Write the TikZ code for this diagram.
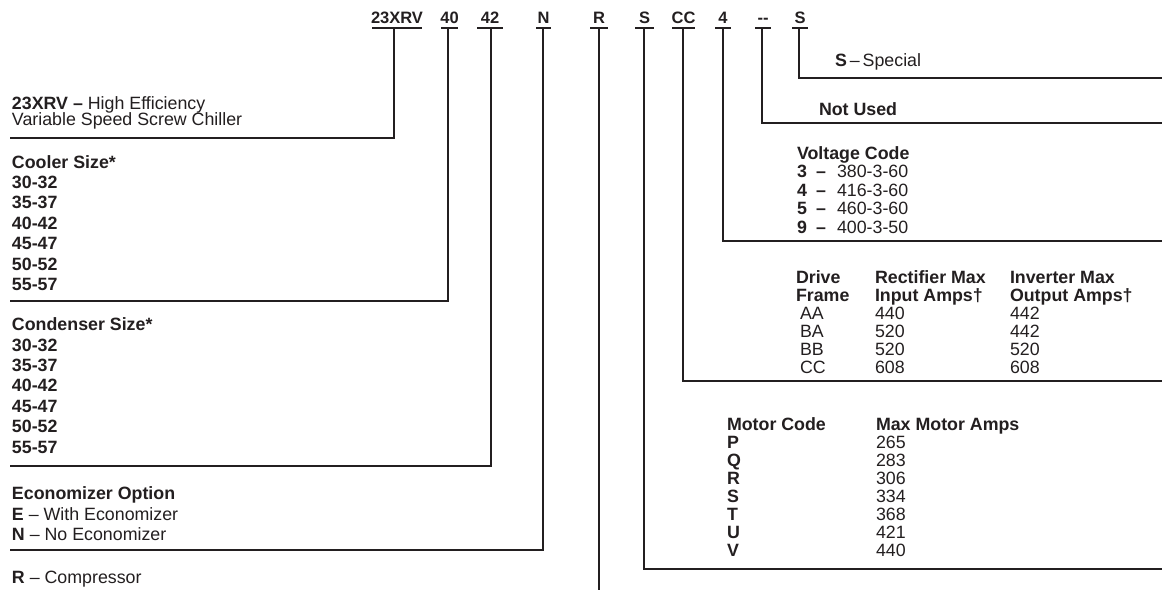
\documentclass[tikz,border=0pt]{standalone}
\usepackage{fontspec}
\setmainfont{Liberation Sans}
\definecolor{ink}{HTML}{231F20}
\begin{document}
\begin{tikzpicture}[x=1pt,y=-1pt,
  conn/.style={draw=ink, line width=2.2pt},
  uline/.style={draw=ink, line width=2.2pt},
  txt/.style={anchor=base west, inner sep=0pt, outer sep=0pt, text=ink, font=\fontsize{17.8}{20}\selectfont},
  bt/.style={txt, font=\fontsize{17.8}{20}\selectfont\bfseries},
  hdr/.style={anchor=base, inner sep=0pt, outer sep=0pt, text=ink, font=\fontsize{16.5}{18}\selectfont\bfseries}]
\useasboundingbox (0,0) rectangle (1162,592);
\fill[white] (0,0) rectangle (1162,592);

% header labels with underlines and stem tops
\foreach \n/\lab/\cx/\l/\r/\s in {
  A/23XRV/397/372/422/394,
  B/40/449.5/441/458/448,
  C/42/490/477/503/491,
  D/N/543.5/536/551/543,
  E/R/599/590/608/599,
  F/S/644.5/635/654/644,
  G/CC/683.5/672/695/683,
  H/4/723/715/731/723,
  I/-{}-/763/755/771/762,
  J/S/800/792/808/799} {
  \node[hdr] (h\n) at (\cx,23) {\lab};
  \coordinate (ul\n) at (\l,28);
  \coordinate (ur\n) at (\r,28);
  \coordinate (st\n) at (\s,28);
  \draw[uline] (ul\n) -- (ur\n);
}

% connector ends
\coordinate (eA) at (10,138);
\coordinate (eB) at (10,301);
\coordinate (eC) at (10,466);
\coordinate (eD) at (10,550);
\coordinate (eE) at (599,590);
\coordinate (eF) at (1162,569);
\coordinate (eG) at (1162,381);
\coordinate (eH) at (1162,241);
\coordinate (eI) at (1162,123);
\coordinate (eJ) at (1162,78);

\draw[conn] (stA) |- (eA);
\draw[conn] (stB) |- (eB);
\draw[conn] (stC) |- (eC);
\draw[conn] (stD) |- (eD);
\draw[conn] (stE) -- (eE);
\draw[conn] (stF) |- (eF);
\draw[conn] (stG) |- (eG);
\draw[conn] (stH) |- (eH);
\draw[conn] (stI) |- (eI);
\draw[conn] (stJ) |- (eJ);

% left side texts
\node[txt] (m1) at (12,109) {\textbf{23XRV –} High Efficiency};
\node[txt] (m2) at (12,125.5) {Variable Speed Screw Chiller};

\node[bt] (cool) at (12,168) {Cooler Size*};
\foreach \t [count=\i] in {30-32,35-37,40-42,45-47,50-52,55-57}
  \node[bt] (cool\i) at (12,168+\i*20.4) {\t};

\node[bt] (cond) at (12,330.7) {Condenser Size*};
\foreach \t [count=\i] in {30-32,35-37,40-42,45-47,50-52,55-57}
  \node[bt] (cond\i) at (12,330.7+\i*20.4) {\t};

\node[bt] (eco) at (12,499) {Economizer Option};
\node[txt] (eco1) at (12,520) {\textbf{E} – With Economizer};
\node[txt] (eco2) at (12,540.5) {\textbf{N} – No Economizer};

\node[txt] (comp) at (12,583.5) {\textbf{R} – Compressor};

% right side texts
\node[txt] (spec) at (835,66.7) {\textbf{S}\,–\,Special};
\node[bt] (nu) at (819,115) {Not Used};

\node[bt] (volt) at (797,159.5) {Voltage Code};
\foreach \c/\v [count=\i] in {3/380-3-60,4/416-3-60,5/460-3-60,9/400-3-50} {
  \node[bt] (vc\i) at (797,159.5+\i*18.4) {\c};
  \node[bt] (vd\i) at (816,159.5+\i*18.4) {–};
  \node[txt] (vv\i) at (837,159.5+\i*18.4) {\v};
}

\node[bt] (df1) at (796,283) {Drive};
\node[bt] (df2) at (796,301.5) {Frame};
\node[bt] (rm1) at (875,283) {Rectifier Max};
\node[bt] (rm2) at (875,301.5) {Input Amps†};
\node[bt] (im1) at (1010,283) {Inverter Max};
\node[bt] (im2) at (1010,301.5) {Output Amps†};
\foreach \f/\a/\b [count=\i] in {AA/440/442,BA/520/442,BB/520/520,CC/608/608} {
  \node[txt] (fr\i) at (800,301.5+\i*18.0) {\f};
  \node[txt] (ra\i) at (875,301.5+\i*18.0) {\a};
  \node[txt] (ia\i) at (1010,301.5+\i*18.0) {\b};
}

\node[bt] (mc) at (727,430.7) {Motor Code};
\node[bt] (ma) at (876,430.7) {Max Motor Amps};
\foreach \c/\a [count=\i] in {P/265,Q/283,R/306,S/334,T/368,U/421,V/440} {
  \node[bt] (mcl\i) at (727,430.7+\i*17.9) {\c};
  \node[txt] (mav\i) at (876,430.7+\i*17.9) {\a};
}
\end{tikzpicture}
\end{document}
